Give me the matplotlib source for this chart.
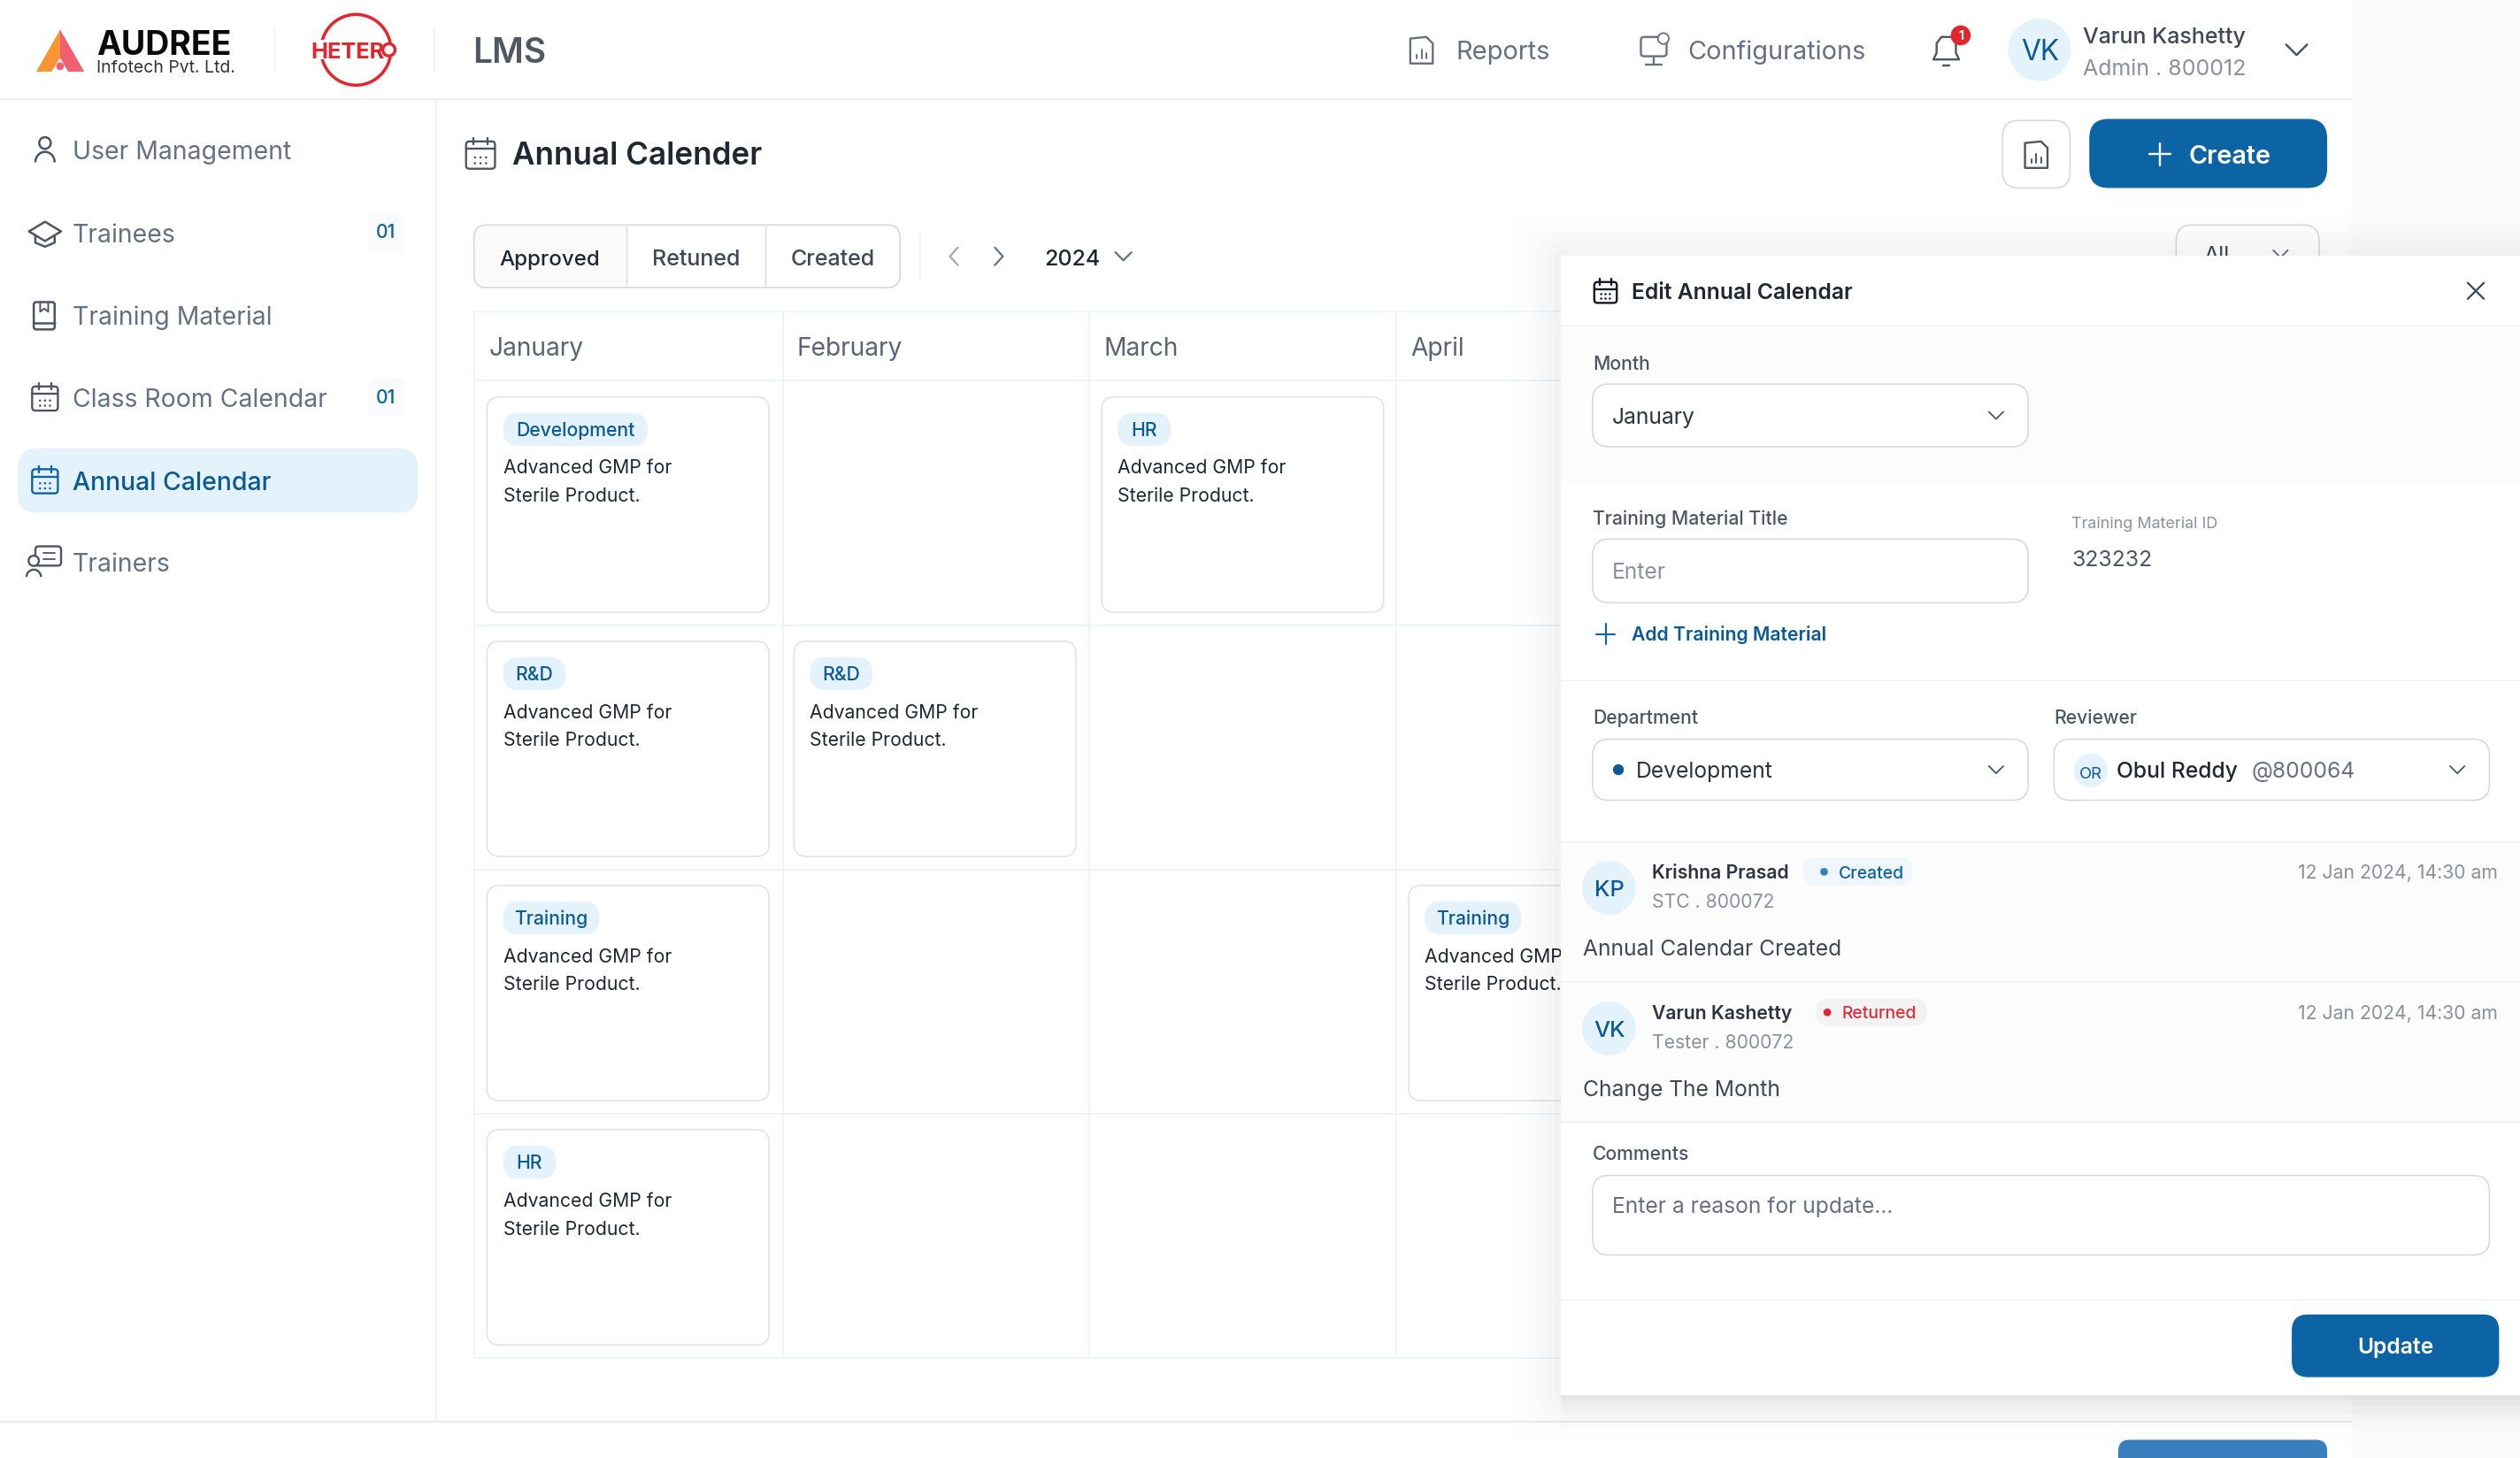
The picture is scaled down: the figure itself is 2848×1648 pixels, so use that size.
import matplotlib
matplotlib.use("Agg")
import matplotlib.pyplot as plt
from matplotlib.patches import FancyBboxPatch, Circle, Ellipse, Polygon, Rectangle, Arc

# ---------- content ----------
nav_items = ["User Management", "Trainees", "Training Material", "Class Room Calendar", "Annual Calendar", "Trainers"]
nav_badges = ["", "01", "", "01", "", ""]
tabs = ["Approved", "Retuned", "Created"]
months = ["January", "February", "March", "April"]
card_departments = ["Development", "HR", "R&D", "R&D", "Training", "Training", "HR"]
card_columns = [0, 2, 0, 1, 0, 3, 0]
card_rows = [0, 0, 1, 1, 2, 2, 3]
chip_widths = [90, 33, 39, 39, 60, 60, 33]
card_lines = ["Advanced GMP for", "Sterile Product."]
who = ["Krishna Prasad", "Varun Kashetty"]
initials = ["KP", "VK"]
roles = ["STC . 800072", "Tester . 800072"]
states = ["Created", "Returned"]
notes = ["Annual Calendar Created", "Change The Month"]

# ---------- canvas ----------
W, H = 2848, 1648
SX = W / 1568
plt.rcParams["font.family"] = ["Inter", "Liberation Sans", "DejaVu Sans"]
fig = plt.figure(figsize=(W / 100, H / 100), dpi=100, facecolor="#fbfbfb")
ax = fig.add_axes([0, 0, 1, 1])
ax.set_xlim(0, 1568)
ax.set_ylim(H / SX, 0)
ax.axis("off")

BLUE = "#0d64a5"
BLUE_T = "#0b5a96"
CHIP = "#e4f2fc"
GRAY = "#667085"
LGRAY = "#8a919c"
DARK = "#1f2732"
BORDER = "#d5d7da"
GRID = "#e9f2f9"
LINE = "#eef0f2"


def pt(s):
    return s * SX * 0.72 * 0.97


def T(x, y, s, size=14, color=DARK, ha="left", weight="normal", z=5):
    return ax.text(x, y + 0.36 * size, s, fontsize=pt(size), color=color, ha=ha, va="baseline",
                   fontweight=weight, zorder=z)


def R(x0, y0, x1, y1, r=0, fc="white", ec="none", lw=1.0, z=2, alpha=None):
    if r <= 0:
        p = Rectangle((x0, y0), x1 - x0, y1 - y0, fc=fc, ec=ec, lw=lw, zorder=z, alpha=alpha)
    else:
        p = FancyBboxPatch((x0 + r, y0 + r), x1 - x0 - 2 * r, y1 - y0 - 2 * r,
                           boxstyle=f"round,pad={r},rounding_size={r}", fc=fc, ec=ec, lw=lw, zorder=z, alpha=alpha)
    ax.add_patch(p)
    return p


def L(xs, ys, color=LINE, lw=1.0, z=2):
    ax.plot(xs, ys, color=color, lw=lw, zorder=z, solid_capstyle="round", solid_joinstyle="round")


def chevron(x, y, d=4.5, color=GRAY, z=5, lw=1.3):
    L([x - d, x, x + d], [y - d / 2, y + d / 2, y - d / 2], color, lw, z)


def calendar_icon(x, y, s=9, color=GRAY, z=5, lw=1.7):
    R(x - s, y - s + 1, x + s, y + s, 2, fc="none", ec=color, lw=lw, z=z)
    L([x - s, x + s], [y - s + 5.5, y - s + 5.5], color, lw, z)
    L([x - s / 2, x - s / 2], [y - s - 1, y - s + 3], color, lw, z)
    L([x + s / 2, x + s / 2], [y - s - 1, y - s + 3], color, lw, z)
    for dx in (-s / 2.6, 0, s / 2.6):
        for dy in (s * 0.22, s * 0.62):
            ax.add_patch(Circle((x + dx, y + dy), 0.7, fc=color, ec="none", zorder=z))


def report_icon(x, y, color=GRAY, z=5, h=8.5, w=7):
    ax.add_patch(Polygon([(x - w, y - h + 1.5), (x + w - 4, y - h + 0.5), (x + w, y - h + 4.5), (x + w, y + h),
                          (x - w, y + h)], closed=True, fc="none", ec=color, lw=1.7, zorder=z, joinstyle="round"))
    for dx, t in ((-3, 4), (0, 1), (3, 3)):
        L([x + dx, x + dx], [y + h - 3, y + t - 1], color, 1.4, z)


# ---------- page ----------
R(0, 0, 1463, 907.4, fc="white", z=1)
L([0, 1463], [61.5, 61.5], LINE, 1.6)
L([271.5, 271.5], [62, 885], LINE, 1.2)
L([0, 1463], [885, 885], "#e4e6e9", 1.2)
R(1318, 896, 1448, 930, 7, fc="#3a7fbd", z=2)
L([170.5, 170.5], [17, 44], LINE, 1.2)
L([270.5, 270.5], [17, 44], LINE, 1.2)

# logos
ax.add_patch(Polygon([(22.6, 44.6), (37.4, 18.4), (37.4, 36), (32, 44.6)], fc="#f79433", ec="none", zorder=3))
ax.add_patch(Polygon([(37.4, 18.4), (52.4, 44.6), (42.5, 44.6), (37.4, 36)], fc="#f0606e", ec="none", zorder=3))
ax.add_patch(Circle((37.4, 41.2), 2.4, fc="#f0606e", ec="none", zorder=3))
T(60, 26.5, "AUDREE", 21.2, "#0a0a0a", weight="bold")
T(60, 41, "Infotech Pvt. Ltd.", 11, "#333333")
ax.add_patch(Ellipse((221.5, 31), 43.5, 44, fc="none", ec="#e3262e", lw=pt(2.0), zorder=3))
R(193, 25, 240, 37, fc="white", z=3)
T(193.5, 31, "HETER", 14.5, "#e3262e", weight="bold", z=4)
ax.add_patch(Circle((242, 31), 3.8, fc="white", ec="#e3262e", lw=pt(1.9), zorder=4))
T(294, 31, "LMS", 22, "#4f5863", weight="semibold")

# header right
report_icon(884.5, 31)
T(906, 31, "Reports", 16.5, GRAY)
R(1021, 23, 1037, 35, 2, fc="none", ec=GRAY, lw=1.7, z=5)
L([1029, 1029], [35, 40], GRAY, 1.7, 5)
L([1024, 1034], [40, 40], GRAY, 1.7, 5)
ax.add_patch(Circle((1035, 24), 3.4, fc="white", ec=GRAY, lw=1.3, zorder=6))
T(1050, 31, "Configurations", 16.4, GRAY)
ax.add_patch(Polygon([(1203, 37), (1205, 33), (1205, 27), (1208, 23), (1214, 23), (1217, 27), (1217, 33), (1219, 37)],
                     fc="none", ec="#4b5563", lw=1.7, zorder=5, joinstyle="round"))
L([1209, 1213], [40.5, 40.5], "#4b5563", 1.7, 5)
ax.add_patch(Circle((1220, 22), 6.2, fc="#e3262e", ec="none", zorder=6))
T(1220, 22, "1", 8, "white", ha="center", weight="bold", z=7)
ax.add_patch(Circle((1269, 31), 19.5, fc=CHIP, ec="none", zorder=3))
T(1269.5, 31, "VK", 18, BLUE_T, ha="center")
T(1296, 22, "Varun Kashetty", 14.2, "#3f4854", weight="medium")
T(1296, 41.5, "Admin . 800012", 14.2, LGRAY)
chevron(1429, 31, 6.5, "#4b5563", lw=1.8)

# sidebar
nav_y = [93.5, 145, 196, 247.5, 299, 350]
R(11, 279, 260, 319, 12, fc=CHIP, z=2)
for i, (name, badge, y) in enumerate(zip(nav_items, nav_badges, nav_y)):
    active = i == 4
    T(45, y, name, 16.1, BLUE_T if active else GRAY, weight="medium" if active else "normal")
    if badge:
        R(229, y - 12.5, 252, y + 12, 6, fc="#f9fafb", z=3)
        T(240, y - 1, badge, 12, BLUE, ha="center", weight="medium")

# sidebar icons
ax.add_patch(Circle((28, 89), 3.6, fc="none", ec="#4b5563", lw=1.8, zorder=5))
ax.add_patch(Arc((28, 101), 12, 13, theta1=180, theta2=360, ec="#4b5563", lw=1.8, zorder=5))
ax.add_patch(Polygon([(18, 144), (28, 138), (38, 144), (28, 150)], fc="none", ec="#4b5563", lw=1.8, zorder=5,
                     joinstyle="round"))
L([22, 22, 28, 34, 34], [147, 151, 153.5, 151, 147], "#4b5563", 1.8, 5)
R(21, 188, 34, 205, 1.5, fc="none", ec="#4b5563", lw=1.8, z=5)
L([21, 34], [201, 201], "#4b5563", 1.8, 5)
L([25, 25, 27.5, 30, 30], [188, 194, 192, 194, 188], "#4b5563", 1.4, 5)
calendar_icon(28, 247.5, 8, "#4b5563")
calendar_icon(28, 299, 8, BLUE)
R(22, 340, 38, 352, 2, fc="none", ec="#4b5563", lw=1.7, z=5)
ax.add_patch(Circle((21, 349), 3.2, fc="white", ec="#4b5563", lw=1.7, zorder=6))
ax.add_patch(Arc((21, 359), 9, 9, theta1=180, theta2=360, ec="#4b5563", lw=1.7, zorder=6))
L([27, 34], [344, 344], "#4b5563", 1.3, 6)
L([27, 34], [348, 348], "#4b5563", 1.3, 6)

# title row
calendar_icon(299, 96, 9, "#4b5563")
T(319, 95.5, "Annual Calender", 19.9, DARK, weight="semibold")
R(1246, 75, 1288, 117, 10, fc="white", ec=BORDER, lw=1.1, z=3)
report_icon(1267, 96, "#4b5563")
R(1300, 74, 1448, 117, 12, fc=BLUE, z=3)
L([1344, 1344], [89, 103], "white", 1.7, 5)
L([1337.5, 1350.5], [96, 96], "white", 1.7, 5)
T(1362, 96, "Create", 16.3, "white", weight="semibold")

# tabs
R(295, 140, 560, 179, 8, fc="white", ec=BORDER, lw=1.2, z=3)
R(296, 141, 308, 178, 7, fc="#fafafa", z=3)
R(302, 141, 389.5, 178, fc="#fafafa", z=3)
L([390, 390], [141, 178], BORDER, 1.0, 4)
L([476, 476], [141, 178], BORDER, 1.0, 4)
for name, cx, col, fs in zip(tabs, [342, 433, 518], ["#1f2732", "#3f4854", "#3f4854"], [13.7, 14.2, 14.2]):
    T(cx, 160, name, fs, col, ha="center", weight="medium")
L([572.5, 572.5], [144, 175], LINE, 1.1)
L([596, 591, 596], [154, 159.5, 165], "#a3a9b2", 1.6, 5)
L([619, 624, 619], [154, 159.5, 165], "#667085", 1.6, 5)
T(650, 160, "2024", 14.2, DARK, weight="medium")
chevron(699, 159.5, 5, GRAY, lw=1.6)
R(1354, 140, 1443, 190, 10, fc="white", ec=BORDER, lw=1.1, z=3)
T(1371, 158, "All", 14.2, "#3f4854")
chevron(1419, 158, 4.5, GRAY)

# calendar grid
col_edges = [295, 487, 678, 869, 1060, 1251, 1443]
row_edges = [194, 237, 389, 541, 693, 845]
for x in col_edges:
    L([x, x], [194, 845], GRID, 1.1, 2)
for y in row_edges:
    L([295, 1443], [y, y], GRID, 1.1, 2)
for m, x in zip(months, col_edges):
    T(x + 9, 215.5, m, 16, "#5a6472")

card_x = [303, 494, 685.5, 876.5]
card_y = [247, 399, 551, 703]
for dep, c, r, cw in zip(card_departments, card_columns, card_rows, chip_widths):
    x, y = card_x[c], card_y[r]
    R(x, y, x + 175.5, y + 134, 8, fc="white", ec="#dfe1e4", lw=1.1, z=3)
    R(x + 10, y + 10, x + 10 + cw, y + 30.5, 10, fc=CHIP, z=4)
    T(x + 10 + cw / 2, y + 20, dep, 12, BLUE_T, ha="center", weight="medium")
    T(x + 10, y + 43.5, card_lines[0], 12, DARK)
    T(x + 10, y + 61, card_lines[1], 12, DARK)

# ---------- edit panel ----------
Z = 10
for i, a in zip(range(14, 0, -2), [0.003, 0.004, 0.005, 0.006, 0.007, 0.009, 0.012]):
    R(971 - i * 2.2, 159 - i * 2.0, 1640, 867 + i * 2.2, 8, fc="#000000", z=Z - 1, alpha=a)
for i, a in zip(range(10, 0, -2), [0.006, 0.008, 0.010, 0.012, 0.014]):
    R(971, 860, 1640, 867 + i * 2.0, fc="#000000", z=Z - 1, alpha=a)
R(971, 159, 1568, 868, fc="white", z=Z)
R(971, 203, 1568, 302, fc="#fcfcfc", z=Z)
R(971, 524, 1568, 698, fc="#fcfcfc", z=Z)
for y in [202.7, 423.2, 524, 611, 698, 808.5]:
    L([971, 1568], [y, y], "#f2f3f5", 1.3, Z + 1)


def Tp(*a, **k):
    k.setdefault("z", Z + 3)
    return T(*a, **k)


def Rp(*a, **k):
    k.setdefault("z", Z + 2)
    return R(*a, **k)


calendar_icon(999, 181.5, 7, "#111827", z=Z + 3)
Tp(1015, 181, "Edit Annual Calendar", 14, DARK, weight="semibold")
L([1535.5, 1545.5], [176, 186], "#3f4854", 1.6, Z + 3)
L([1535.5, 1545.5], [186, 176], "#3f4854", 1.6, Z + 3)

Tp(991, 226, "Month", 12, "#4b5563", weight="medium")
Rp(991, 239, 1262, 278, 10, fc="white", ec=BORDER, lw=1.1)
Tp(1003, 258.5, "January", 14, "#2b3440")
chevron(1242, 258.5, 4.5, "#4b5563", z=Z + 3)

Tp(991, 322, "Training Material Title", 12, "#4b5563", weight="medium")
Rp(991, 335.5, 1262, 375, 10, fc="white", ec=BORDER, lw=1.1)
Tp(1003, 355, "Enter", 14, LGRAY)
Tp(1289, 325, "Training Material ID", 10.2, LGRAY)
Tp(1289, 347.5, "323232", 14, "#4b5563")
L([999, 999], [388, 401], BLUE, 1.5, Z + 3)
L([993, 1005], [394.5, 394.5], BLUE, 1.5, Z + 3)
Tp(1015, 394.5, "Add Training Material", 12, BLUE_T, weight="semibold")

Tp(991, 446, "Department", 12, "#4b5563", weight="medium")
Tp(1278, 446, "Reviewer", 12, "#4b5563", weight="medium")
Rp(991, 460, 1262, 498, 10, fc="white", ec=BORDER, lw=1.1)
Rp(1278, 460, 1549, 498, 10, fc="white", ec=BORDER, lw=1.1)
ax.add_patch(Circle((1007, 479), 3.4, fc=BLUE_T, ec="none", zorder=Z + 3))
Tp(1018, 479, "Development", 14, "#2b3440")
chevron(1242, 479, 4.5, "#4b5563", z=Z + 3)
ax.add_patch(Circle((1301, 479.5), 10.5, fc=CHIP, ec="none", zorder=Z + 3))
Tp(1301, 480.5, "OR", 10.5, BLUE_T, ha="center", z=Z + 4)
Tp(1317, 479, "Obul Reddy", 14, DARK, weight="medium")
Tp(1401, 479, "@800064", 14, GRAY)
chevron(1529, 479, 4.5, "#4b5563", z=Z + 3)

# activity entries
state_x = [1122, 1130]
state_w = [68, 69]
dot_x = [1135, 1137]
state_tx = [1144, 1146]
state_fg = [BLUE, "#e02d3c"]
state_bg = ["#eff6fd", "#f3f3f3"]
dot_fg = ["#3a7fc4", "#e3262e"]
entry_y = [542.5, 630]
note_y = [589.5, 677]
for n, ini, ro, st, sx, sw, dx, tx, fg, bg, df, ey, nt, ny in zip(who, initials, roles, states, state_x, state_w, dot_x,
                                                                  state_tx, state_fg, state_bg, dot_fg, entry_y, notes,
                                                                  note_y):
    ax.add_patch(Circle((1001, ey + 10), 16.7, fc=CHIP, ec="none", zorder=Z + 3))
    Tp(1001.5, ey + 10, ini, 14.5, BLUE_T, ha="center", weight="medium", z=Z + 4)
    Tp(1028, ey, n, 12, "#2b3440", weight="semibold")
    Rp(sx, ey - 8.5, sx + sw, ey + 8.5, 8, fc=bg)
    ax.add_patch(Circle((dx, ey), 2.4, fc=df, ec="none", zorder=Z + 3))
    Tp(tx, ey, st, 11, fg, weight="medium")
    Tp(1028, ey + 18, ro, 12, LGRAY)
    Tp(1554, ey, "12 Jan 2024, 14:30 am", 12, LGRAY, ha="right")
    Tp(985, ny, nt, 14, "#3f4854")

Tp(991, 717.5, "Comments", 12, "#4b5563", weight="medium")
Rp(991, 731.5, 1549, 781, 10, fc="white", ec=BORDER, lw=1.1)
Tp(1003, 750, "Enter a reason for update...", 14, GRAY)
Rp(1426, 818, 1555, 857, 10, fc=BLUE)
Tp(1490.5, 837.5, "Update", 14, "white", ha="center", weight="semibold")

fig.savefig("out.png", dpi=100, facecolor=fig.get_facecolor())
